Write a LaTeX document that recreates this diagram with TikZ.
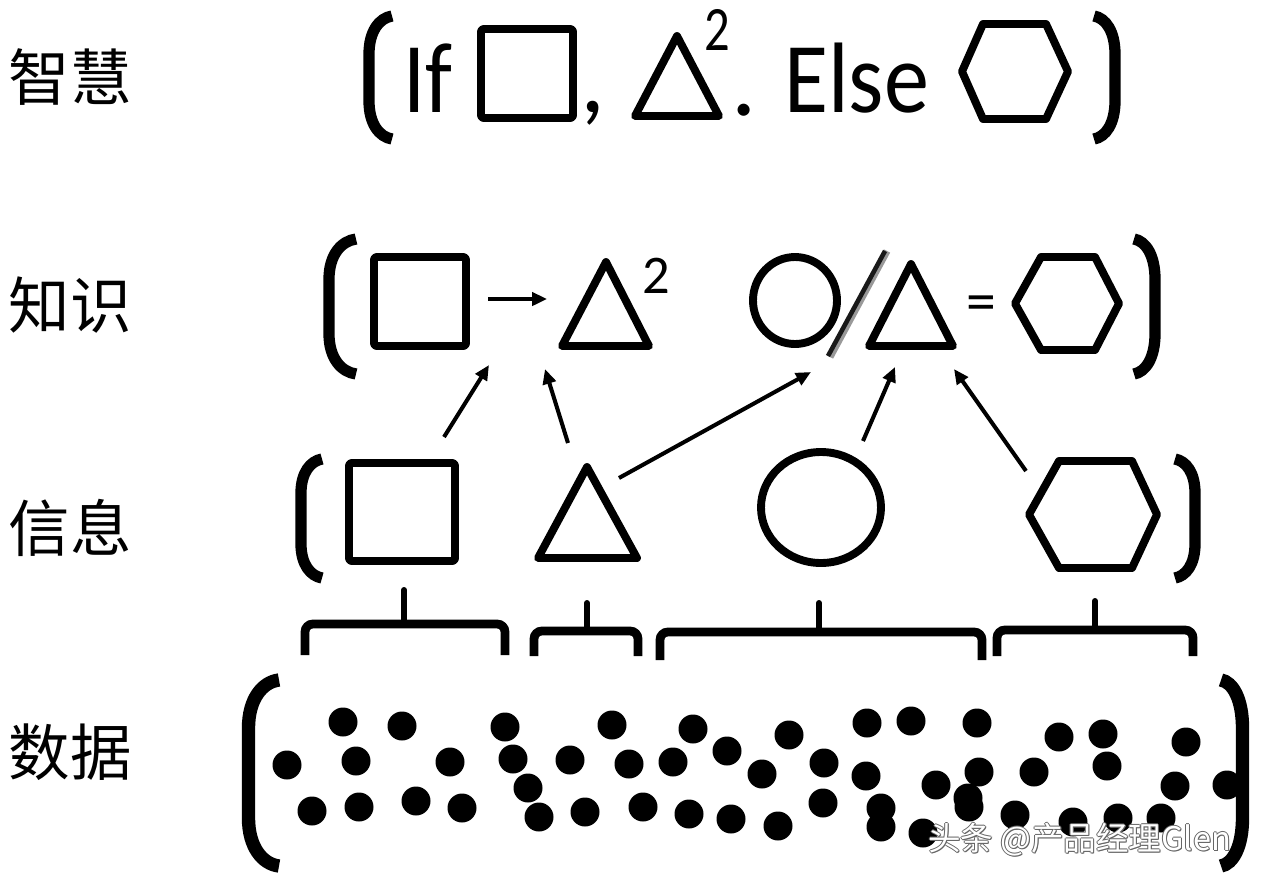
\documentclass[tikz,border=0pt]{standalone}
\usepackage{fontspec}
\newfontfamily\cjk{Noto Sans CJK SC}
\newfontfamily\carl{Carlito}
\usetikzlibrary{arrows.meta,calc}
\begin{document}
\begin{tikzpicture}[x=0.02cm,y=-0.02cm,
  shp/.style={line width=4.5pt, line join=round},
  brk/.style={line width=6.4pt},
  dbrk/.style={line width=7.6pt},
  brc/.style={line width=5pt, rounded corners=4.5pt},
  stem/.style={line width=3.4pt, line cap=round},
  arr/.style={line width=2.3pt, -{Triangle[length=8.5pt,width=7.5pt]}},
  lbl/.style={font=\cjk\fontsize{35}{40}\selectfont, inner sep=0pt},
  txt/.style={font=\carl\fontsize{57}{60}\selectfont, inner sep=0pt, anchor=base west},
  wm/.style={font=\cjk\fontsize{18.5}{20}\selectfont, inner sep=0pt, anchor=base west}]
\useasboundingbox[fill=white] (0,0) rectangle (1262,880);

% left labels
\node[lbl] (lw) at (70,77) {智慧};
\node[lbl] (lk) at (70,305) {知识};
\node[lbl] (li) at (70,528) {信息};
\node[lbl] (ld) at (70,752) {数据};

% ---------- brackets: #2 = x of stem, #3 = x of ends, #4 top, #5 bottom, #6 bend length ----------
\newcommand{\lbrk}[6][brk]{\draw[#1] (#3,#4) .. controls ($(#2,#4)!0.45!(#3,#4)+(0,2)$) and (#2,#4+#6*0.4) .. (#2,#4+#6) -- (#2,#5-#6) .. controls (#2,#5-#6*0.4) and ($(#2,#5)!0.45!(#3,#5)+(0,-2)$) .. (#3,#5);}
\lbrk{369}{392}{16}{139}{38}
\lbrk{1115}{1094}{16}{139}{38}
\lbrk{329}{356}{239}{374}{40}
\lbrk{1155}{1134}{239}{374}{40}
\lbrk{301}{322}{459}{578}{34}
\lbrk{1195}{1175}{459}{578}{34}
\lbrk[dbrk]{248.5}{279}{680}{866}{48}
\lbrk[dbrk]{1242.5}{1221}{680}{866}{48}

% ---------- wisdom row ----------
\node[txt] (if) at (403,112) {\scalebox{0.88}[1]{If}};
\draw[shp, rounded corners=1.5pt] (481,29) rectangle (573,118);
\node[txt] (comma) at (580,112) {,};
\draw[shp] (677,36) -- (719,116) -- (635,116) -- cycle;
\node[txt, font=\carl\fontsize{36}{40}\selectfont] (sq1) at (704,50) {\scalebox{0.8}[1]{2}};
\node[txt] (dot1) at (731,115) {.};
\node[txt] (else) at (784,112) {\scalebox{0.9}[1]{Else}};
\draw[shp] (962,71.5) -- (983,24) -- (1046,24) -- (1068,71.5) -- (1046,119) -- (983,119) -- cycle;

% ---------- knowledge row ----------
\draw[shp, rounded corners=1.5pt] (374,257) rectangle (466,346);
\coordinate (k1s) at (488,299);
\coordinate (k1e) at (547,299);
\draw[arr] (k1s) -- (k1e);
\draw[shp] (606,262) -- (649,346) -- (562,346) -- cycle;
\node[txt, font=\carl\fontsize{31}{34}\selectfont] (sq2) at (642,293) {2};
\draw[shp] (795,300.5) ellipse[x radius=42, y radius=43.5];
\draw[line width=4pt, black!40] (887,251) -- (830,357);
\draw[line width=2.6pt, black!90] (885,251) -- (828,356);
\draw[shp] (911,264) -- (953,346) -- (869,346) -- cycle;
\node[font=\carl\fontsize{34}{36}\selectfont, inner sep=0pt, anchor=base] (eq) at (981,321) {=};
\draw[shp] (1015,303.5) -- (1041,257) -- (1095,257) -- (1119,303.5) -- (1095,350) -- (1041,350) -- cycle;

% ---------- information row ----------
\draw[shp, rounded corners=1.5pt] (349,463) rectangle (455,561);
\draw[shp] (587,467) -- (637,558) -- (538,558) -- cycle;
\draw[shp] (821,507.5) ellipse[x radius=60, y radius=55.5];
\draw[shp] (1029,514.5) -- (1059,461) -- (1132,461) -- (1157,514.5) -- (1132,568) -- (1059,568) -- cycle;

% ---------- arrows info -> knowledge ----------
\coordinate (a1s) at (444,437); \coordinate (a1e) at (489,365);
\coordinate (a2s) at (568,443); \coordinate (a2e) at (545,369);
\coordinate (a3s) at (619,478); \coordinate (a3e) at (811,372);
\coordinate (a4s) at (863,441); \coordinate (a4e) at (895,367);
\coordinate (a5s) at (1026,471); \coordinate (a5e) at (954,369);
\draw[arr] (a1s) -- (a1e);
\draw[arr] (a2s) -- (a2e);
\draw[arr] (a3s) -- (a3e);
\draw[arr] (a4s) -- (a4e);
\draw[arr] (a5s) -- (a5e);

% ---------- braces ----------
\draw[brc] (305,655) -- (305,624) -- (505,624) -- (505,655);
\draw[stem] (404,624) -- (404,590);
\draw[brc] (534,656) -- (534,631) -- (638,631) -- (638,656);
\draw[stem] (587,631) -- (587,603);
\draw[brc] (660,660) -- (660,632) -- (982,632) -- (982,660);
\draw[stem] (819,632) -- (819,603);
\draw[brc] (997,656) -- (997,630) -- (1193,630) -- (1193,656);
\draw[stem] (1095,630) -- (1095,601);

% ---------- data dots ----------
\foreach \x/\y in {343/722, 402/726, 505/727, 287/765, 356/761, 450/762, 312/811, 359/807, 416/801, 462/808,
  612/725, 693/729, 727/751, 513/759, 570/760, 629/764, 673/762, 528/788, 539/817, 585/812, 643/807, 689/814, 731/819,
  789/735, 867/723, 911/721, 977/723, 762/774, 824/763, 866/776, 936/785, 979/772, 823/803, 778/826,
  881/808, 881/827, 923/833, 968/798, 969/807,
  1059/737, 1103/734, 1186/742, 1034/772, 1107/766, 1175/786, 1227/785, 1015/815, 1073/822, 1118/818, 1161/818}
  \fill (\x,\y) circle[radius=14.5];

% ---------- watermark ----------
\foreach \dx/\dy in {-1/0, 1/0, 0/-1, 0/1, 1/1}
  \node[wm, text=black!60] at (928+\dx,850+\dy) {头条 @产品经理Glen};
\node[wm, text=white] (wmk) at (928,850) {头条 @产品经理Glen};
\end{tikzpicture}
\end{document}
